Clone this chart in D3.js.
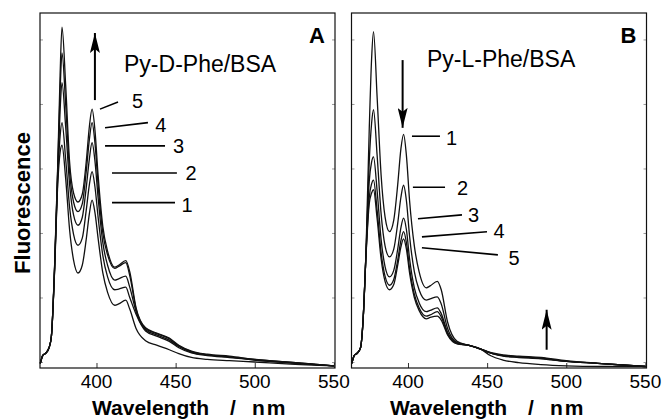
<!DOCTYPE html>
<html lang="en">
<head>
<meta charset="UTF-8">
<title>Pyrene fluorescence spectra</title>
<script src="https://d3js.org/d3.v7.min.js"></script>
<style>
  body { margin: 0; background: #fff; }
  svg { display: block; font-family: "Liberation Sans", Arial, sans-serif; }
</style>
</head>
<body>
<svg id="chart" width="663" height="420"></svg>
<script>
// wavelength grid (nm), shared by all spectra
const wavelengths = [364.5, 366, 368, 370, 371.5, 373.5, 375.5, 377, 378.2, 380.5, 383, 385.5, 388.3, 391, 393.5, 395.5, 397.2, 399, 401, 404, 407, 411.5, 414, 418.5, 421, 425, 431, 438, 446, 452, 460, 470, 484, 500, 520, 550];

// panel A: Py-D-Phe/BSA, spectra 1..5 (arbitrary units)
const pyD1 = [-0.02, 0.10, 0.14, 0.22, 0.40, 1.40, 2.75, 3.25, 3.36, 2.85, 2.05, 1.58, 1.38, 1.50, 1.90, 2.30, 2.51, 2.32, 1.92, 1.38, 1.08, 0.88, 0.90, 0.96, 0.82, 0.52, 0.33, 0.26, 0.19, 0.13, 0.07, 0.04, 0.02, 0.00, -0.03, -0.06];
const pyD2 = [-0.02, 0.10, 0.14, 0.22, 0.40, 1.42, 2.85, 3.50, 3.71, 3.15, 2.40, 1.98, 1.81, 1.92, 2.35, 2.75, 2.95, 2.72, 2.25, 1.65, 1.32, 1.12, 1.13, 1.16, 1.00, 0.74, 0.48, 0.40, 0.32, 0.22, 0.14, 0.10, 0.07, 0.03, -0.01, -0.06];
const pyD3 = [-0.02, 0.10, 0.14, 0.22, 0.40, 1.44, 2.95, 3.90, 4.33, 3.65, 2.75, 2.28, 2.12, 2.24, 2.70, 3.15, 3.40, 3.12, 2.55, 1.85, 1.50, 1.27, 1.29, 1.33, 1.16, 0.78, 0.50, 0.42, 0.34, 0.24, 0.15, 0.11, 0.08, 0.03, -0.01, -0.06];
const pyD4 = [-0.02, 0.10, 0.14, 0.22, 0.40, 1.46, 3.00, 4.20, 4.79, 4.00, 2.95, 2.48, 2.33, 2.45, 2.95, 3.45, 3.71, 3.40, 2.75, 2.00, 1.66, 1.45, 1.48, 1.54, 1.34, 0.82, 0.52, 0.44, 0.36, 0.25, 0.16, 0.11, 0.08, 0.04, 0.00, -0.06];
const pyD5 = [-0.02, 0.10, 0.14, 0.22, 0.40, 1.48, 3.05, 4.45, 5.19, 4.30, 3.10, 2.62, 2.48, 2.60, 3.10, 3.65, 3.92, 3.60, 2.90, 2.10, 1.72, 1.47, 1.50, 1.57, 1.40, 0.84, 0.53, 0.45, 0.37, 0.26, 0.17, 0.12, 0.09, 0.04, 0.00, -0.06];

// panel B: Py-L-Phe/BSA, spectra 1..5
const pyL1 = [-0.02, 0.10, 0.14, 0.22, 0.60, 1.75, 3.60, 4.70, 5.12, 4.10, 2.90, 2.25, 2.02, 2.20, 2.75, 3.30, 3.53, 3.20, 2.50, 1.80, 1.40, 1.15, 1.18, 1.25, 1.12, 0.62, 0.32, 0.26, 0.20, 0.10, 0.03, -0.01, -0.04, -0.06, -0.07, -0.07];
const pyL2 = [-0.02, 0.10, 0.14, 0.22, 0.60, 1.72, 3.10, 3.70, 3.91, 3.20, 2.30, 1.80, 1.63, 1.75, 2.15, 2.55, 2.74, 2.50, 1.95, 1.40, 1.12, 0.96, 0.98, 1.01, 0.90, 0.52, 0.30, 0.26, 0.20, 0.14, 0.09, 0.07, 0.05, 0.01, -0.02, -0.07];
const pyL3 = [-0.02, 0.10, 0.14, 0.22, 0.60, 1.70, 2.80, 3.10, 3.18, 2.65, 1.90, 1.48, 1.32, 1.42, 1.75, 2.08, 2.23, 2.05, 1.60, 1.15, 0.92, 0.78, 0.80, 0.84, 0.75, 0.46, 0.29, 0.26, 0.20, 0.14, 0.10, 0.08, 0.06, 0.01, -0.02, -0.07];
const pyL4 = [-0.02, 0.10, 0.14, 0.22, 0.60, 1.68, 2.55, 2.76, 2.82, 2.35, 1.70, 1.33, 1.19, 1.28, 1.58, 1.88, 2.02, 1.85, 1.45, 1.05, 0.84, 0.71, 0.73, 0.78, 0.70, 0.44, 0.29, 0.26, 0.20, 0.14, 0.10, 0.08, 0.06, 0.01, -0.02, -0.07];
const pyL5 = [-0.02, 0.10, 0.14, 0.22, 0.60, 1.66, 2.45, 2.62, 2.67, 2.22, 1.60, 1.25, 1.12, 1.20, 1.50, 1.78, 1.91, 1.75, 1.38, 1.00, 0.80, 0.67, 0.69, 0.71, 0.65, 0.42, 0.28, 0.26, 0.20, 0.15, 0.11, 0.09, 0.07, 0.02, -0.02, -0.07];

const xTicks = [400, 450, 500, 550];
const yTicks = [0, 1, 2, 3, 4, 5];
const curveLabels = ['1', '2', '3', '4', '5'];

// leader lines [x1, y1, x2, y2] and label anchors [x, y] in data units
const leadersA = [[409.8, 2.47, 449.6, 2.47], [409.8, 2.93, 450.8, 2.93], [405.4, 3.35, 443.3, 3.35], [405.4, 3.63, 432.5, 3.71], [402.2, 3.92, 413.6, 4.03]];
const labelPosA = [[457.2, 2.33], [459.7, 2.82], [451.8, 3.24], [440.7, 3.57], [425.9, 3.94]];
const leadersB = [[402.5, 3.50, 420.2, 3.50], [403.1, 2.71, 423.4, 2.71], [406.3, 2.22, 434.1, 2.28], [408.8, 1.94, 449.9, 2.02], [408.8, 1.77, 456.8, 1.66]];
const labelPosB = [[427.5, 3.36], [434.4, 2.59], [441.4, 2.17], [457.5, 1.92], [467.0, 1.50]];

const svg = d3.select('#chart');
const plotTop = 13, plotBottom = 368;
const font = '"Liberation Sans", Arial, sans-serif';

// arrowhead
svg.append('defs').append('marker')
  .attr('id', 'head')
  .attr('viewBox', '0 0 20 10')
  .attr('refX', 20).attr('refY', 5)
  .attr('markerWidth', 20).attr('markerHeight', 10)
  .attr('markerUnits', 'userSpaceOnUse')
  .attr('orient', 'auto')
  .append('path')
  .attr('d', 'M0,0 L20,5 L0,10 L4,5 Z')
  .attr('fill', '#000');

function drawPanel(opts) {
  const x = d3.scaleLinear().domain([364.3, 550.7]).range([opts.left, opts.left + 295]);
  const y = d3.scaleLinear().domain([-0.093, 5.41]).range([plotBottom, plotTop]);
  const g = svg.append('g');

  // tick marks, inside the frame
  g.append('g')
    .attr('transform', `translate(0,${plotBottom})`)
    .call(d3.axisBottom(x).tickValues(xTicks).tickSize(-5).tickFormat(''))
    .call(s => s.select('.domain').remove())
    .call(s => s.selectAll('line').attr('stroke', '#333'));
  g.append('g')
    .attr('transform', `translate(${opts.left},0)`)
    .call(d3.axisLeft(y).tickValues(yTicks).tickSize(-3).tickFormat(''))
    .call(s => s.select('.domain').remove())
    .call(s => s.selectAll('line').attr('stroke', '#999'));
  g.append('g')
    .attr('transform', `translate(${opts.left + 295},0)`)
    .call(d3.axisRight(y).tickValues(yTicks).tickSize(-3).tickFormat(''))
    .call(s => s.select('.domain').remove())
    .call(s => s.selectAll('line').attr('stroke', '#999'));

  // tick labels
  g.selectAll('.xl').data(xTicks).join('text')
    .attr('x', d => x(d)).attr('y', 388)
    .attr('text-anchor', 'middle')
    .attr('font-size', 19).attr('font-family', font)
    .text(d => d);

  // spectra
  const line = d3.line()
    .x((d, i) => x(wavelengths[i]))
    .y(d => y(d))
    .curve(d3.curveMonotoneX);
  g.selectAll('.spec').data(opts.series).join('path')
    .attr('d', line)
    .attr('fill', 'none')
    .attr('stroke', '#111')
    .attr('stroke-width', 1.3);

  // frame
  g.append('rect')
    .attr('x', opts.left).attr('y', plotTop)
    .attr('width', 295).attr('height', plotBottom - plotTop)
    .attr('fill', 'none').attr('stroke', '#111').attr('stroke-width', 1.2);

  // leaders + numbers
  g.selectAll('.lead').data(opts.leaders).join('line')
    .attr('x1', d => x(d[0])).attr('y1', d => y(d[1]))
    .attr('x2', d => x(d[2])).attr('y2', d => y(d[3]))
    .attr('stroke', '#000').attr('stroke-width', 1.6);
  g.selectAll('.num').data(opts.labelPos).join('text')
    .attr('x', d => x(d[0])).attr('y', d => y(d[1]))
    .attr('text-anchor', 'middle')
    .attr('font-size', 20).attr('font-family', font)
    .text((d, i) => curveLabels[i]);

  // arrows
  opts.arrows.forEach(a => {
    g.append('line')
      .attr('x1', x(a[0])).attr('y1', y(a[1]))
      .attr('x2', x(a[0])).attr('y2', y(a[2]))
      .attr('stroke', '#000').attr('stroke-width', 2)
      .attr('marker-end', 'url(#head)');
  });

  // sample name and panel letter
  g.append('text')
    .attr('x', x(opts.nameAt[0])).attr('y', y(opts.nameAt[1]))
    .attr('font-size', 23).attr('font-family', font)
    .text(opts.name);
  g.append('text')
    .attr('x', opts.left + 285).attr('y', 43)
    .attr('text-anchor', 'end')
    .attr('font-size', 22).attr('font-weight', 'bold').attr('font-family', font)
    .text(opts.letter);

  // x axis title
  const cx = opts.titleX;
  const t = g.append('text')
    .attr('y', 415)
    .attr('font-size', 21).attr('font-weight', 'bold').attr('font-family', font);
  t.append('tspan').attr('x', cx - 98).text('Wavelength');
  t.append('tspan').attr('x', cx + 40).text('/');
  t.append('tspan').attr('x', cx + 62).attr('letter-spacing', 2).text('nm');
}

drawPanel({
  left: 40, letter: 'A', name: 'Py-D-Phe/BSA', nameAt: [417.4, 4.5],
  series: [pyD1, pyD2, pyD3, pyD4, pyD5],
  leaders: leadersA, labelPos: labelPosA,
  arrows: [[399.0, 4.06, 5.10]],
  titleX: 190
});
drawPanel({
  left: 351.5, letter: 'B', name: 'Py-L-Phe/BSA', nameAt: [412.0, 4.57],
  series: [pyL1, pyL2, pyL3, pyL4, pyL5],
  leaders: leadersB, labelPos: labelPosB,
  arrows: [[396.6, 4.68, 3.63], [487.6, 0.19, 0.81]],
  titleX: 488
});

// y axis title
svg.append('text')
  .attr('transform', 'translate(30,203) rotate(-90)')
  .attr('text-anchor', 'middle')
  .attr('font-size', 22).attr('font-weight', 'bold').attr('font-family', font)
  .text('Fluorescence');
</script>
</body>
</html>
